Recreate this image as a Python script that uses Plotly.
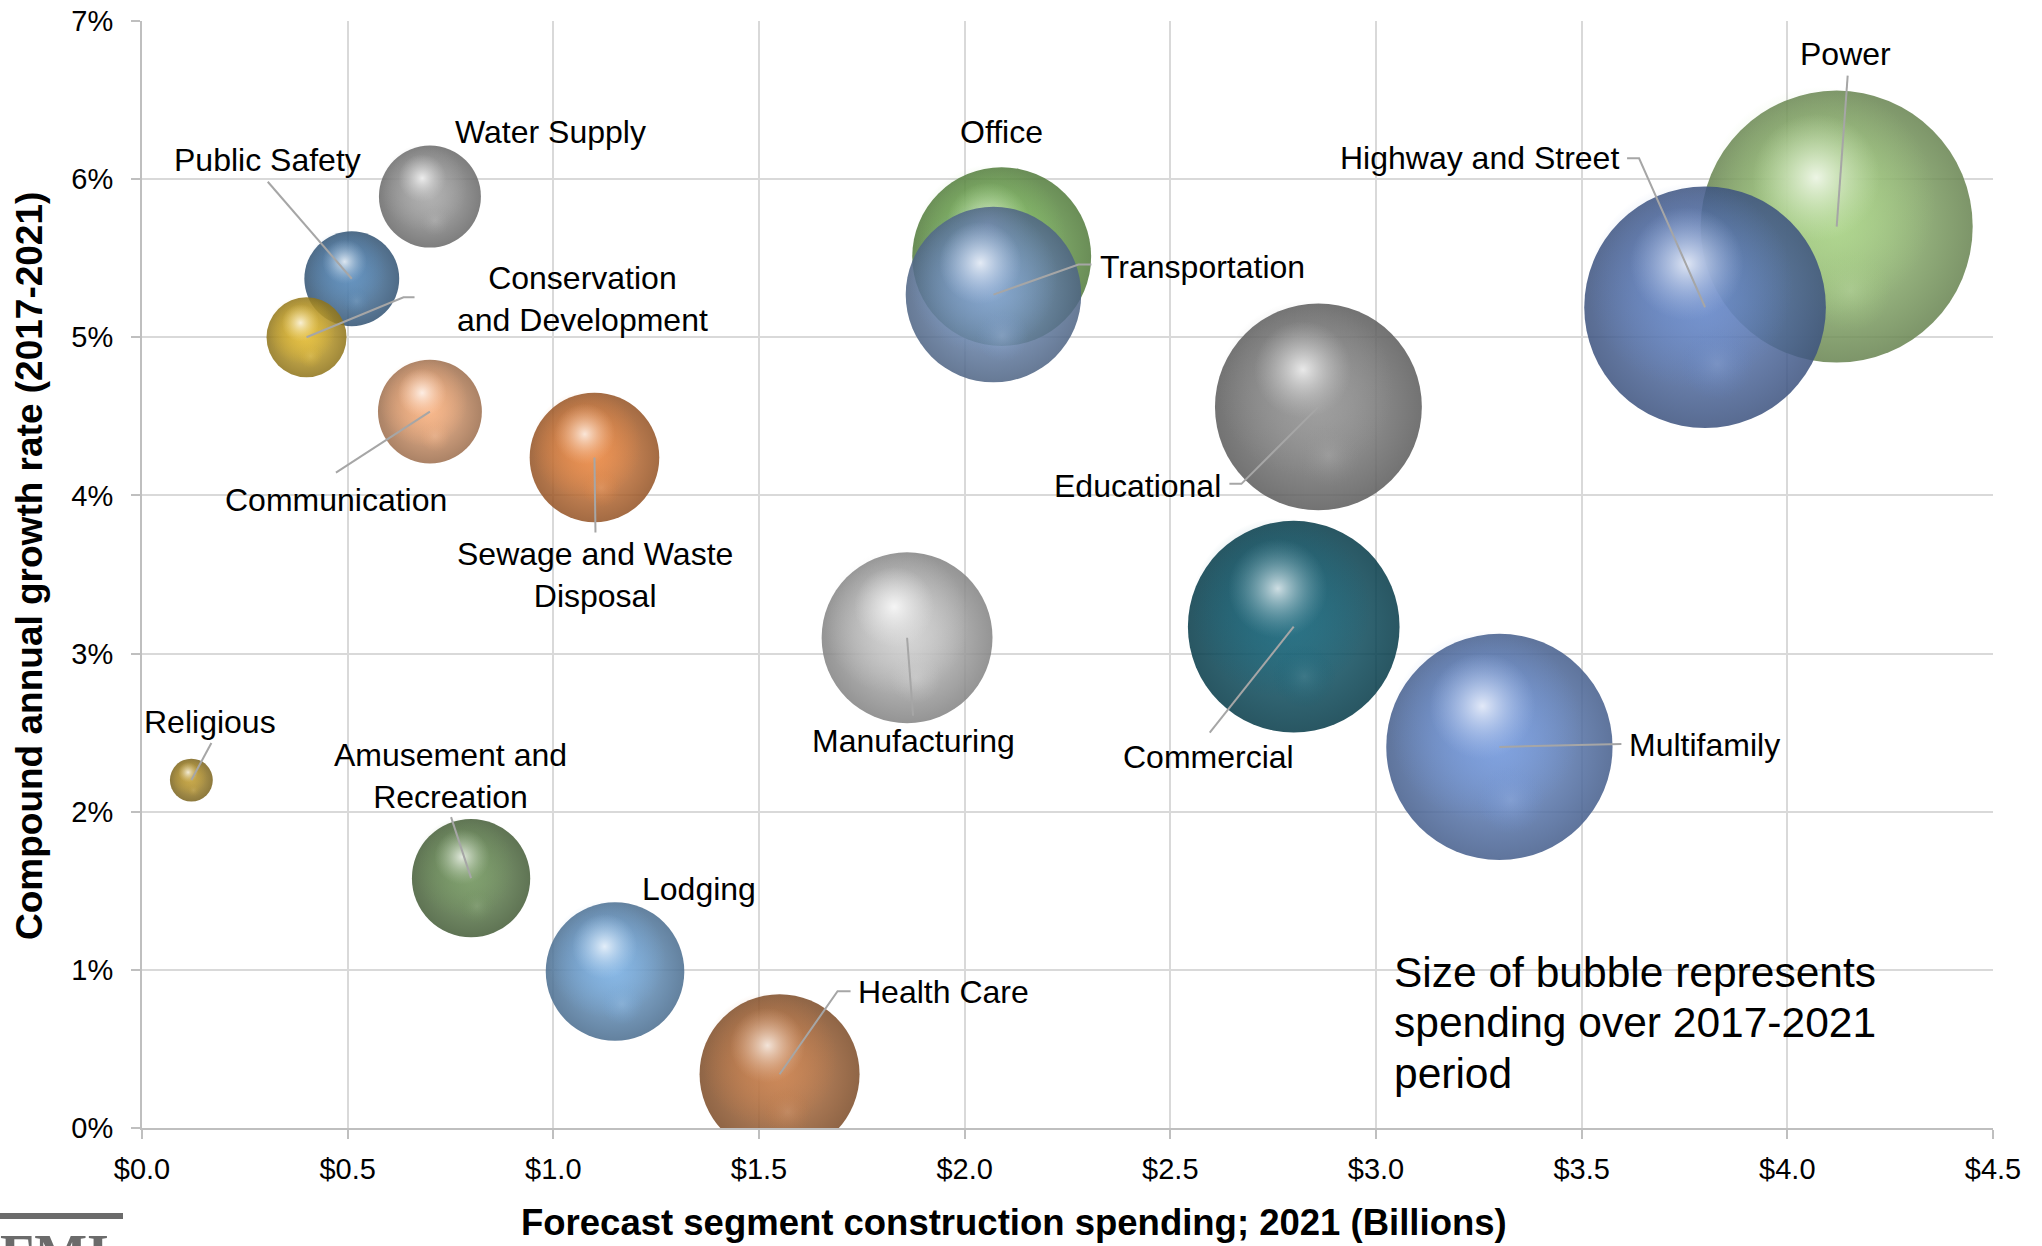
import math
import plotly.graph_objects as go

# ---------------- data ----------------
segments = [
    "Power", "Highway and Street", "Multifamily", "Commercial", "Educational",
    "Office", "Transportation", "Manufacturing", "Health Care", "Lodging",
    "Sewage and Waste Disposal", "Amusement and Recreation", "Communication",
    "Water Supply", "Public Safety", "Conservation and Development", "Religious",
]
# forecast 2021 spending, $ billions
spend_2021 = [4.12, 3.80, 3.30, 2.80, 2.86, 2.09, 2.07, 1.86, 1.55, 1.15,
              1.10, 0.80, 0.70, 0.70, 0.51, 0.40, 0.12]
# compound annual growth rate 2017-2021, percent
cagr_pct = [5.70, 5.19, 2.41, 3.17, 4.56, 5.51, 5.27, 3.10, 0.34, 0.99,
            4.24, 1.58, 4.53, 5.89, 5.37, 5.00, 2.20]
# cumulative spending 2017-2021, $ billions (bubble size)
spend_total = [18.5, 14.6, 12.8, 11.2, 10.7, 8.0, 7.7, 7.3, 6.4, 4.8,
               4.2, 3.5, 2.7, 2.6, 2.25, 1.6, 0.46]

x_ticks = [0.0, 0.5, 1.0, 1.5, 2.0, 2.5, 3.0, 3.5, 4.0, 4.5]
x_tick_labels = ["$0.0", "$0.5", "$1.0", "$1.5", "$2.0", "$2.5", "$3.0", "$3.5", "$4.0", "$4.5"]
y_ticks = [0.00, 0.01, 0.02, 0.03, 0.04, 0.05, 0.06, 0.07]
y_tick_labels = ["0%", "1%", "2%", "3%", "4%", "5%", "6%", "7%"]

note_lines = ["Size of bubble represents", "spending over 2017-2021", "period"]

# ---------------- styling ----------------
colors = {
    "Power": "#A3CF7E", "Highway and Street": "#5F82C6", "Multifamily": "#6C93DA",
    "Commercial": "#0A5C72", "Educational": "#8F8F8F", "Office": "#80C05E",
    "Transportation": "#7A9CCE", "Manufacturing": "#CDCDCD", "Health Care": "#C4763F",
    "Lodging": "#74ABE0", "Sewage and Waste Disposal": "#E8823A",
    "Amusement and Recreation": "#6C9158", "Communication": "#F6AC79",
    "Water Supply": "#A4A4A4", "Public Safety": "#4E82B4",
    "Conservation and Development": "#E0B628", "Religious": "#BE9A2E",
}
label_text = {
    "Sewage and Waste Disposal": "Sewage and Waste<br>Disposal",
    "Amusement and Recreation": "Amusement and<br>Recreation",
    "Conservation and Development": "Conservation<br>and Development",
}
# label offset from bubble centre in pixels (x right, y up)
label_shift = {
    "Power": (9, 173), "Highway and Street": (-226, 149), "Office": (0, 125),
    "Transportation": (209, 28), "Educational": (-181, -79), "Commercial": (-85, -130),
    "Multifamily": (205, 2), "Manufacturing": (6, -103), "Health Care": (164, 82),
    "Lodging": (84, 82), "Amusement and Recreation": (-21, 102), "Religious": (19, 58),
    "Sewage and Waste Disposal": (1, -118), "Communication": (-94, -88),
    "Conservation and Development": (276, 38), "Public Safety": (-84, 119),
    "Water Supply": (121, 65),
}
# leader line vertices from bubble centre in pixels (x right, y up)
leaders = {
    "Power": [(11, 151)],
    "Highway and Street": [(-66, 149), (-78, 149)],
    "Transportation": [(85, 30), (98, 30)],
    "Educational": [(-77, -77), (-89, -77)],
    "Commercial": [(-84, -106)],
    "Multifamily": [(122, 3)],
    "Manufacturing": [(6, -78)],
    "Health Care": [(58, 83), (71, 83)],
    "Amusement and Recreation": [(-20, 61)],
    "Religious": [(20, 37)],
    "Sewage and Waste Disposal": [(1, -75)],
    "Communication": [(-94, -61)],
    "Conservation and Development": [(97, 40), (108, 40)],
    "Public Safety": [(-84, 97)],
}

FONT = "Liberation Sans, Arial, Helvetica, sans-serif"
W, H = 2042, 1246
L, R, T, B = 142, 49, 21, 118
plot_w, plot_h = W - L - R, H - T - B
X_MAX, Y_MAX = x_ticks[-1], y_ticks[-1]
px_per_x = plot_w / X_MAX
px_per_y = plot_h / Y_MAX
SIZEREF = 0.0005          # area sizing: radius_px = sqrt(v / (2 * SIZEREF))
WHITE, BLACK = (255, 255, 255), (0, 0, 0)


def xp(px):
    return (px - L) / plot_w


def yp(py):
    return (H - B - py) / plot_h


def rgb(hexcol):
    h = hexcol.lstrip("#")
    return tuple(int(h[i:i + 2], 16) for i in (0, 2, 4))


def mix(c, target, t):
    return tuple(round(a + (b - a) * t) for a, b in zip(c, target))


def rgba(c, a=1.0):
    return f"rgba({c[0]},{c[1]},{c[2]},{a})"


fig = go.Figure()


def glow(xv, yv, size, edge, centre, opacity=1.0):
    """One radially shaded disc (area-sized like the bubbles)."""
    fig.add_trace(go.Scatter(
        x=[xv], y=[yv], mode="markers", hoverinfo="skip", showlegend=False,
        marker=dict(size=[size], sizemode="area", sizeref=SIZEREF, opacity=opacity,
                    color=edge, line=dict(width=0),
                    gradient=dict(type="radial", color=centre)),
    ))


# spheres: dark-rimmed disc, lit upper-left body, lower reflection, specular spot
for name, xv, gv, sv in zip(segments, spend_2021, cagr_pct, spend_total):
    yv = gv / 100
    r = math.sqrt(sv / (2 * SIZEREF))
    base = rgb(colors[name])
    ox, oy = r / px_per_x, r / px_per_y
    glow(xv, yv, sv, rgba(mix(base, BLACK, 0.36)), rgba(mix(base, WHITE, 0.08)), opacity=0.86)
    glow(xv - 0.12 * ox, yv + 0.18 * oy, sv * 0.72,
         rgba(base, 0), rgba(mix(base, WHITE, 0.12), 0.8))
    glow(xv + 0.10 * ox, yv - 0.47 * oy, sv * 0.09,
         rgba(base, 0), rgba(mix(base, WHITE, 0.3), 0.4))
    glow(xv - 0.15 * ox, yv + 0.36 * oy, sv * 0.22,
         rgba(mix(base, WHITE, 0.4), 0), rgba(mix(base, WHITE, 0.8), 1.0))

# leader lines
for name, xv, gv in zip(segments, spend_2021, cagr_pct):
    if name not in leaders:
        continue
    path = "M0,0 " + " ".join(f"L{a},{b}" for a, b in leaders[name])
    fig.add_shape(type="path", xref="x", yref="y", xsizemode="pixel", ysizemode="pixel",
                  xanchor=xv, yanchor=gv / 100, path=path,
                  line=dict(color="#a6a6a6", width=2), layer="above")

# data labels
for name, xv, gv in zip(segments, spend_2021, cagr_pct):
    dx, dy = label_shift[name]
    fig.add_annotation(x=xv, y=gv / 100, xref="x", yref="y", showarrow=False,
                       text=label_text.get(name, name), xshift=dx, yshift=dy,
                       xanchor="center", yanchor="middle", align="center",
                       font=dict(family=FONT, size=32, color="#000000"))

# white panel behind the size note
fig.add_shape(type="rect", xref="paper", yref="paper", x0=xp(1372), x1=xp(2005),
              y0=yp(1108), y1=yp(932), fillcolor="white", line=dict(width=0), layer="between")
for line, py in zip(note_lines, [972, 1022, 1073]):
    fig.add_annotation(xref="paper", yref="paper", x=xp(1392), y=yp(py), showarrow=False,
                       xanchor="left", yanchor="middle", align="left", text=line,
                       font=dict(family=FONT, size=42.5, color="#000000"))

# axis titles
fig.add_annotation(xref="paper", yref="paper", x=xp(1014), y=yp(1245), showarrow=False,
                   xanchor="center", yanchor="bottom",
                   text="<b>Forecast segment construction spending; 2021 (Billions)</b>",
                   font=dict(family=FONT, size=36.5, color="#000000"))
fig.add_annotation(xref="paper", yref="paper", x=xp(29), y=yp(566), showarrow=False,
                   xanchor="center", yanchor="middle", textangle=-90,
                   text="<b>Compound annual growth rate (2017-2021)</b>",
                   font=dict(family=FONT, size=37, color="#000000"))

# FMI mark in the lower-left corner
fig.add_shape(type="rect", xref="paper", yref="paper", x0=xp(0), x1=xp(123),
              y0=yp(1219), y1=yp(1213), fillcolor="#6b6b6b", line=dict(width=0), layer="above")
fig.add_annotation(xref="paper", yref="paper", x=xp(-2), y=yp(1222), showarrow=False,
                   xanchor="left", yanchor="top", text="<b>FMI</b>",
                   font=dict(family="Liberation Serif, Times New Roman, serif", size=56,
                             color="#6b6b6b"))

axis_common = dict(
    showgrid=True, gridcolor="#d9d9d9", gridwidth=2,
    showline=True, linecolor="#bfbfbf", linewidth=2,
    ticks="outside", ticklen=9, tickwidth=2, tickcolor="#bfbfbf",
    zeroline=False, automargin=False,
    tickfont=dict(family=FONT, size=29, color="#000000"),
)
fig.update_xaxes(range=[0, X_MAX], tickvals=x_ticks, ticktext=x_tick_labels,
                 ticklabelstandoff=5, **axis_common)
fig.update_yaxes(range=[0, Y_MAX], tickvals=y_ticks, ticktext=y_tick_labels,
                 ticklabelstandoff=12, **axis_common)

fig.update_layout(
    width=W, height=H, autosize=False,
    margin=dict(l=L, r=R, t=T, b=B, pad=0),
    paper_bgcolor="white", plot_bgcolor="white",
    showlegend=False,
)

fig.write_html("out.html")
